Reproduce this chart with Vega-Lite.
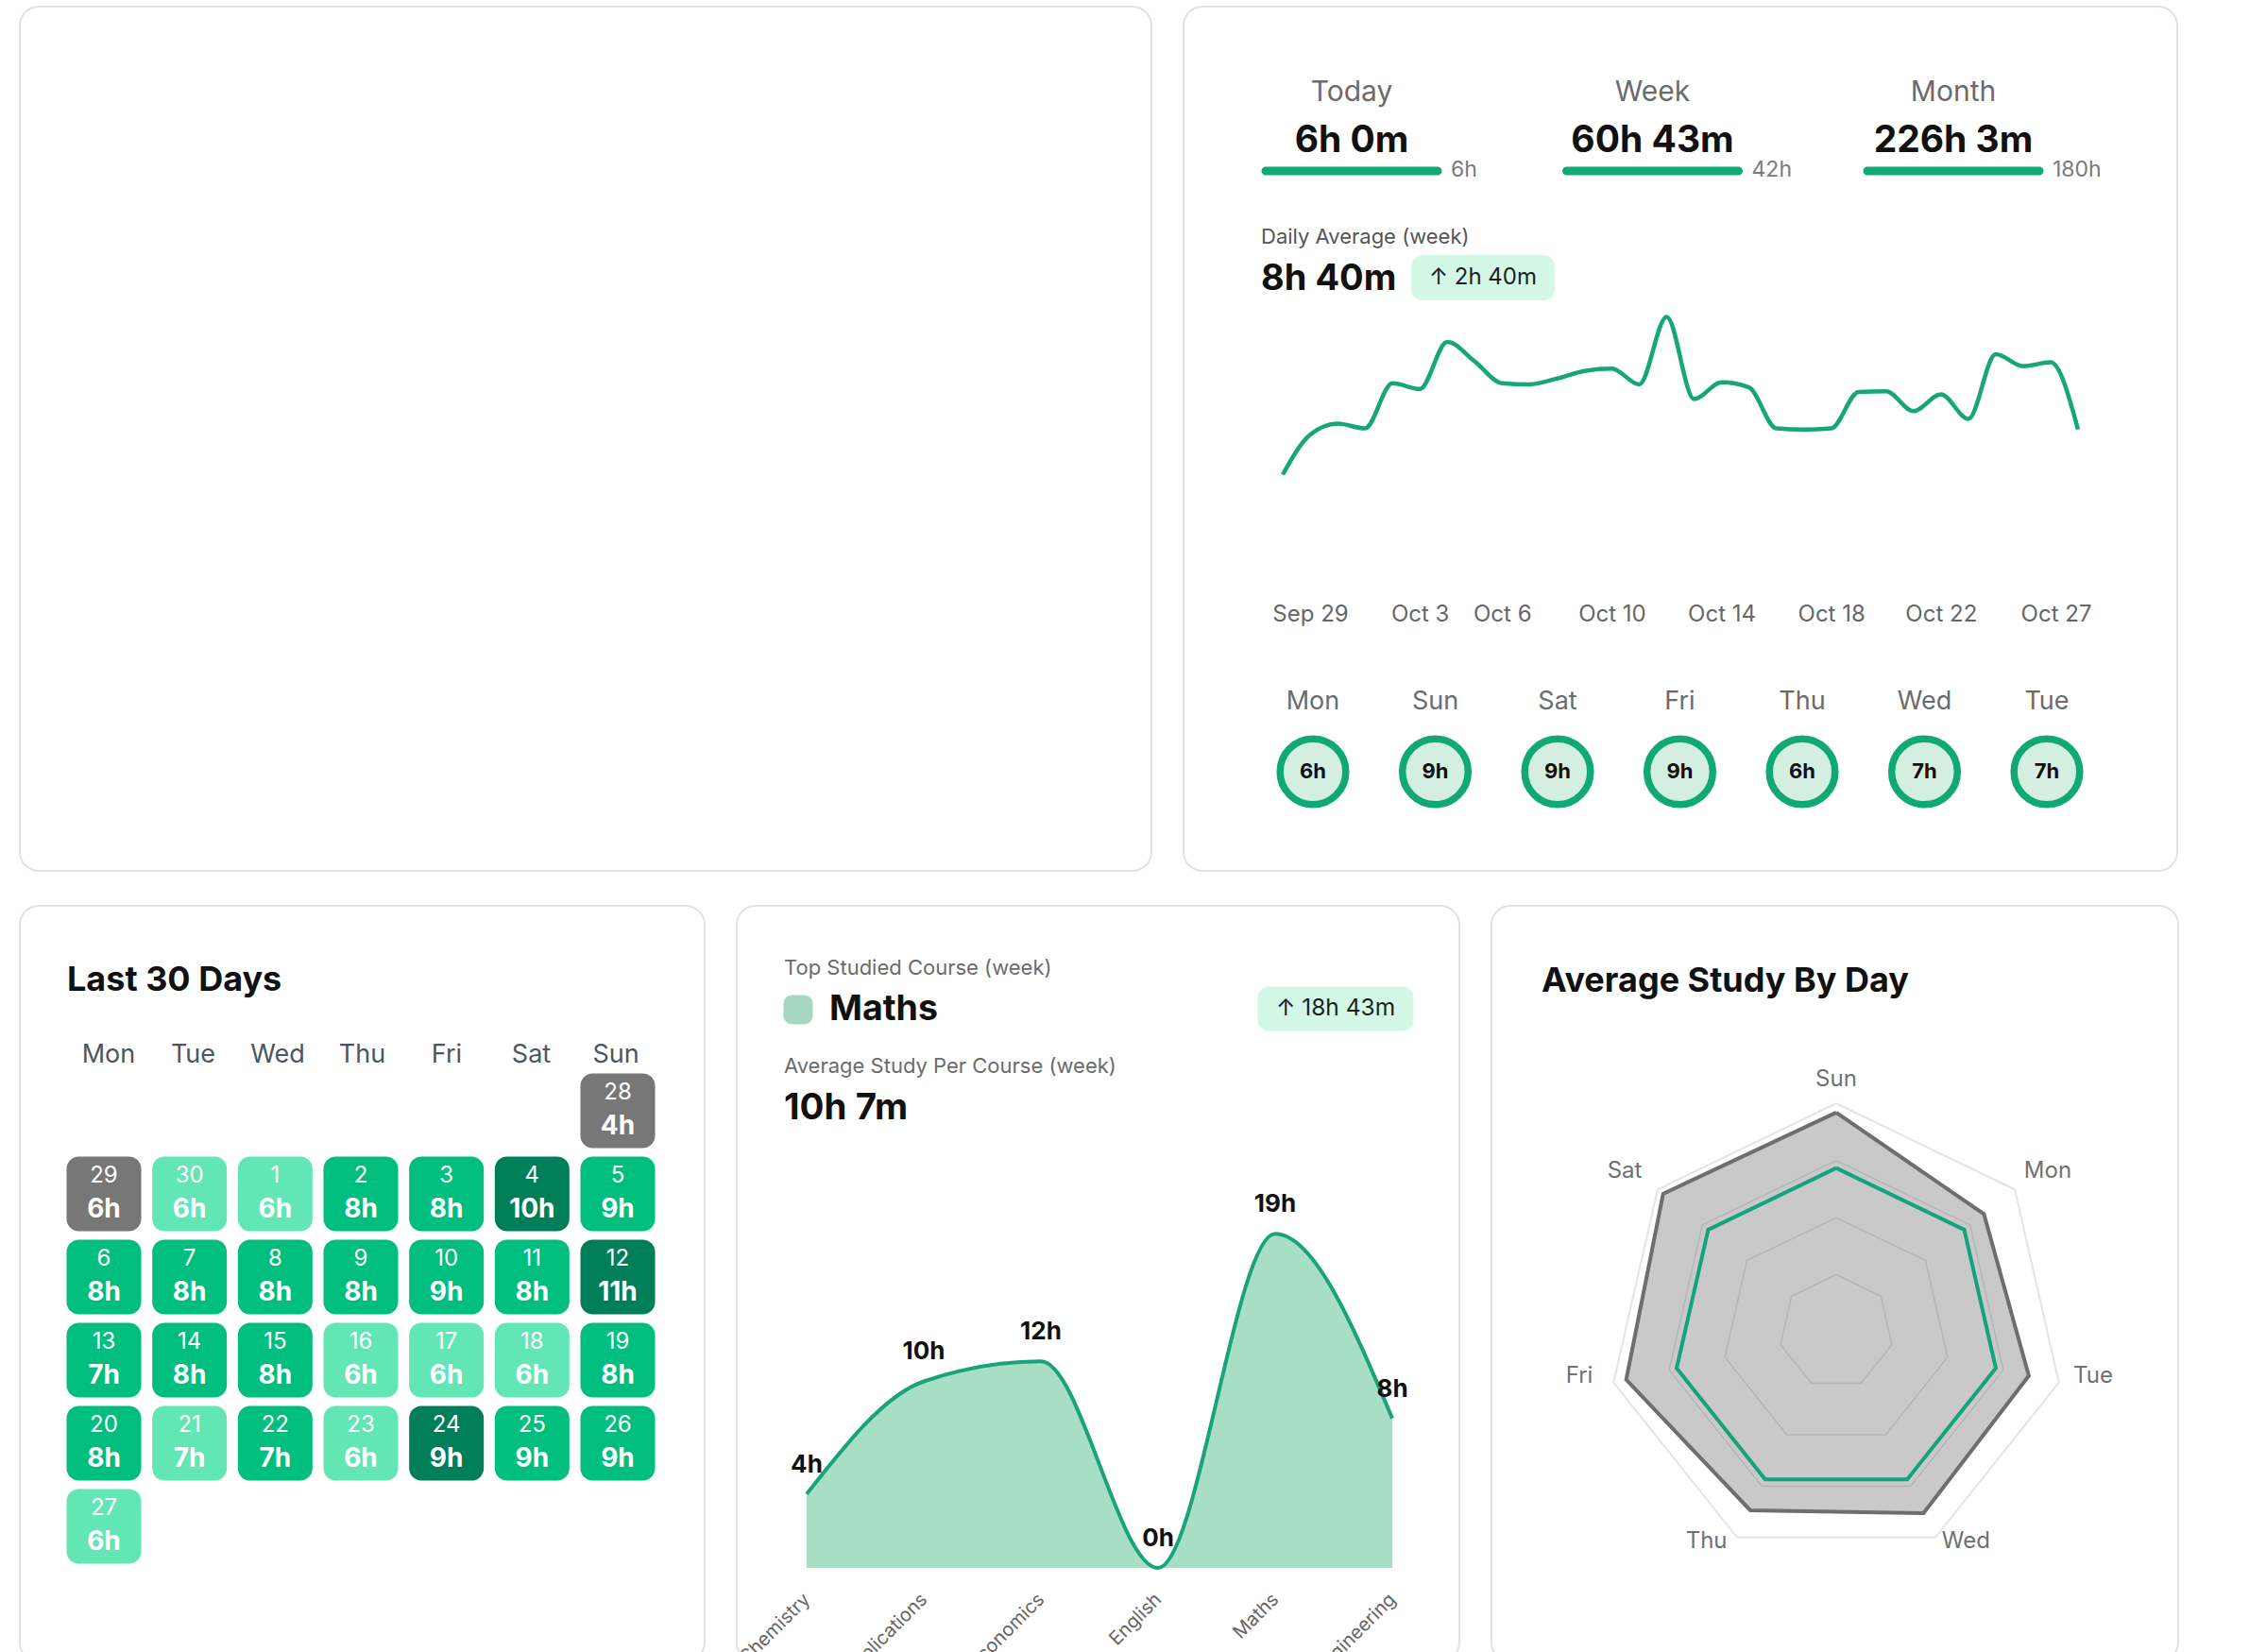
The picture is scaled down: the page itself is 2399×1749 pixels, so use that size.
{
  "$schema": "https://vega.github.io/schema/vega-lite/v6.json",
  "background": "#ffffff",
  "padding": {"left": 20, "top": 6, "right": 0, "bottom": 0},
  "config": {
    "font": "Inter",
    "view": {"stroke": "#e2e2e2", "strokeWidth": 2, "cornerRadius": 20, "fill": "#ffffff"},
    "text": {"font": "Inter"}
  },
  "spacing": 35,
  "vconcat": [
    {
      "spacing": 34,
      "bounds": "flush",
      "hconcat": [
        {
          "width": 1198,
          "height": 915,
          "data": {"values": [{"t": ""}]},
          "mark": {"type": "text", "opacity": 0},
          "encoding": {
            "text": {"field": "t"},
            "x": {"field": "t", "type": "nominal", "scale": {"type": "point", "range": [600, 600]}, "axis": null},
            "y": {"field": "t", "type": "nominal", "scale": {"type": "point", "range": [450, 450]}, "axis": null}
          }
        },
        {
          "width": 1052,
          "height": 915,
          "resolve": {"scale": {"x": "independent", "y": "independent"}},
          "layer": [
            {
              "data": {"values": [
                {"period": "Today", "total": "6h 0m", "goal": "6h"},
                {"period": "Week", "total": "60h 43m", "goal": "42h"},
                {"period": "Month", "total": "226h 3m", "goal": "180h"}
              ]},
              "encoding": {"x": {"field": "period", "type": "nominal", "scale": {"type": "point", "domain": ["Today", "Week", "Month"], "range": [178, 815], "padding": 0}, "axis": null}},
              "resolve": {"scale": {"y": "independent"}},
              "layer": [
                {"mark": {"type": "text", "fontSize": 30, "color": "#6b6b6b", "baseline": "middle"},
                 "encoding": {"text": {"field": "period"}, "y": {"field": "period", "type": "nominal", "scale": {"type": "point", "range": [91, 91]}, "axis": null}}},
                {"mark": {"type": "text", "fontSize": 39, "fontWeight": "bold", "color": "#111111", "baseline": "middle"},
                 "encoding": {"text": {"field": "total"}, "y": {"field": "period", "type": "nominal", "scale": {"type": "point", "range": [142, 142]}, "axis": null}}},
                {"mark": {"type": "rect", "width": 191, "height": 9, "cornerRadius": 4.5, "color": "#10a874"},
                 "encoding": {"y": {"field": "period", "type": "nominal", "scale": {"type": "point", "range": [174, 174]}, "axis": null}}},
                {"mark": {"type": "text", "fontSize": 23, "color": "#7a7a7a", "baseline": "middle", "align": "left", "dx": 105},
                 "encoding": {"text": {"field": "goal"}, "y": {"field": "period", "type": "nominal", "scale": {"type": "point", "range": [173, 173]}, "axis": null}}}
              ]
            },
            {
              "data": {"values": [{"t": "Daily Average (week)"}]},
              "mark": {"type": "text", "align": "left", "baseline": "middle", "fontSize": 22, "color": "#555555"},
              "encoding": {
                "text": {"field": "t"},
                "x": {"field": "t", "type": "nominal", "scale": {"type": "point", "range": [82, 82]}, "axis": null},
                "y": {"field": "t", "type": "nominal", "scale": {"type": "point", "range": [244, 244]}, "axis": null}
              }
            },
            {
              "data": {"values": [{"t": "8h 40m"}]},
              "mark": {"type": "text", "align": "left", "baseline": "middle", "fontSize": 38, "fontWeight": "bold", "color": "#111111"},
              "encoding": {
                "text": {"field": "t"},
                "x": {"field": "t", "type": "nominal", "scale": {"type": "point", "range": [82, 82]}, "axis": null},
                "y": {"field": "t", "type": "nominal", "scale": {"type": "point", "range": [289, 289]}, "axis": null}
              }
            },
            {
              "data": {"values": [{"t": "↑ 2h 40m"}]},
              "encoding": {
                "x": {"field": "t", "type": "nominal", "scale": {"type": "point", "range": [317, 317]}, "axis": null},
                "y": {"field": "t", "type": "nominal", "scale": {"type": "point", "range": [287, 287]}, "axis": null}
              },
              "layer": [
                {"mark": {"type": "rect", "width": 152, "height": 48, "cornerRadius": 12, "color": "#d3f8e8"}},
                {"mark": {"type": "text", "fontSize": 24, "color": "#1f1f1f", "baseline": "middle"}, "encoding": {"text": {"field": "t"}}}
              ]
            },
            {
              "data": {"values": [
                {"date": "2025-09-28T00:00", "hours": 4.0},
                {"date": "2025-09-29T00:00", "hours": 5.77},
                {"date": "2025-09-30T00:00", "hours": 6.26},
                {"date": "2025-10-01T00:00", "hours": 6.05},
                {"date": "2025-10-02T00:00", "hours": 8.05},
                {"date": "2025-10-03T00:00", "hours": 7.8},
                {"date": "2025-10-04T00:00", "hours": 9.89},
                {"date": "2025-10-05T00:00", "hours": 9.02},
                {"date": "2025-10-06T00:00", "hours": 8.05},
                {"date": "2025-10-07T00:00", "hours": 8.0},
                {"date": "2025-10-08T00:00", "hours": 8.26},
                {"date": "2025-10-09T00:00", "hours": 8.6},
                {"date": "2025-10-10T00:00", "hours": 8.7},
                {"date": "2025-10-11T00:00", "hours": 8.0},
                {"date": "2025-10-12T00:00", "hours": 11.0},
                {"date": "2025-10-13T00:00", "hours": 7.35},
                {"date": "2025-10-14T00:00", "hours": 8.09},
                {"date": "2025-10-15T00:00", "hours": 7.87},
                {"date": "2025-10-16T00:00", "hours": 6.05},
                {"date": "2025-10-17T00:00", "hours": 6.0},
                {"date": "2025-10-18T00:00", "hours": 6.05},
                {"date": "2025-10-19T00:00", "hours": 7.67},
                {"date": "2025-10-20T00:00", "hours": 7.7},
                {"date": "2025-10-21T00:00", "hours": 6.82},
                {"date": "2025-10-22T00:00", "hours": 7.56},
                {"date": "2025-10-23T00:00", "hours": 6.47},
                {"date": "2025-10-24T00:00", "hours": 9.34},
                {"date": "2025-10-25T00:00", "hours": 8.81},
                {"date": "2025-10-26T00:00", "hours": 8.98},
                {"date": "2025-10-27T00:00", "hours": 6.0}
              ]},
              "mark": {"type": "line", "interpolate": "monotone", "color": "#17a57a", "strokeWidth": 4.5},
              "encoding": {
                "x": {
                  "field": "date", "type": "temporal",
                  "scale": {"range": [105, 947], "nice": false},
                  "axis": {
                    "orient": "bottom", "offset": -272,
                    "values": [
                      {"year": 2025, "month": "sep", "date": 29},
                      {"year": 2025, "month": "oct", "date": 3},
                      {"year": 2025, "month": "oct", "date": 6},
                      {"year": 2025, "month": "oct", "date": 10},
                      {"year": 2025, "month": "oct", "date": 14},
                      {"year": 2025, "month": "oct", "date": 18},
                      {"year": 2025, "month": "oct", "date": 22},
                      {"year": 2025, "month": "oct", "date": 27}
                    ],
                    "format": "%b %-d", "domain": false, "ticks": false, "tickSize": 0, "grid": false,
                    "labelPadding": 0, "labelBaseline": "middle", "labelFontSize": 24, "labelColor": "#666666",
                    "labelFlush": true, "labelFlushOffset": 14, "labelOverlap": false, "title": null
                  }
                },
                "y": {"field": "hours", "type": "quantitative", "scale": {"domain": [0, 12], "range": [591, 304.5], "nice": false}, "axis": null}
              }
            },
            {
              "data": {"values": [
                {"day": "Mon", "h": "6h"},
                {"day": "Sun", "h": "9h"},
                {"day": "Sat", "h": "9h"},
                {"day": "Fri", "h": "9h"},
                {"day": "Thu", "h": "6h"},
                {"day": "Wed", "h": "7h"},
                {"day": "Tue", "h": "7h"}
              ]},
              "encoding": {"x": {"field": "day", "type": "nominal", "scale": {"type": "point", "domain": ["Mon", "Sun", "Sat", "Fri", "Thu", "Wed", "Tue"], "range": [137, 914], "padding": 0}, "axis": null}},
              "resolve": {"scale": {"y": "independent"}},
              "layer": [
                {"mark": {"type": "text", "fontSize": 27, "color": "#6b6b6b", "baseline": "middle"},
                 "encoding": {"text": {"field": "day"}, "y": {"field": "day", "type": "nominal", "scale": {"type": "point", "range": [736, 736]}, "axis": null}}},
                {"mark": {"type": "point", "shape": "circle", "size": 4850, "filled": false, "fill": "#d4efe2", "fillOpacity": 1, "stroke": "#10a874", "strokeWidth": 7.5, "opacity": 1},
                 "encoding": {"y": {"field": "day", "type": "nominal", "scale": {"type": "point", "range": [810, 810]}, "axis": null}}},
                {"mark": {"type": "text", "fontSize": 22, "fontWeight": "bold", "color": "#111111", "baseline": "middle"},
                 "encoding": {"text": {"field": "h"}, "y": {"field": "day", "type": "nominal", "scale": {"type": "point", "range": [810, 810]}, "axis": null}}}
              ]
            }
          ]
        }
      ]
    },
    {
      "spacing": 34,
      "bounds": "flush",
      "hconcat": [
        {
          "width": 725,
          "height": 800,
          "resolve": {"scale": {"x": "independent", "y": "independent", "color": "independent"}},
          "layer": [
            {
              "data": {"values": [{"t": "Last 30 Days"}]},
              "mark": {"type": "text", "align": "left", "baseline": "middle", "fontSize": 36, "fontWeight": "bold", "color": "#111111"},
              "encoding": {
                "text": {"field": "t"},
                "x": {"field": "t", "type": "nominal", "scale": {"type": "point", "range": [50, 50]}, "axis": null},
                "y": {"field": "t", "type": "nominal", "scale": {"type": "point", "range": [79, 79]}, "axis": null}
              }
            },
            {
              "data": {"values": [{"dow": "Mon"}, {"dow": "Tue"}, {"dow": "Wed"}, {"dow": "Thu"}, {"dow": "Fri"}, {"dow": "Sat"}, {"dow": "Sun"}]},
              "mark": {"type": "text", "baseline": "middle", "fontSize": 27, "color": "#4b5563"},
              "encoding": {
                "text": {"field": "dow"},
                "x": {"field": "dow", "type": "nominal", "scale": {"type": "point", "domain": ["Mon", "Tue", "Wed", "Thu", "Fri", "Sat", "Sun"], "range": [94, 631], "padding": 0}, "axis": null},
                "y": {"field": "dow", "type": "nominal", "scale": {"type": "point", "range": [158, 158]}, "axis": null}
              }
            },
            {
              "data": {"values": [
                {"d": "28", "h": "4h", "dow": "Sun", "wk": 0, "lvl": "gray"},
                {"d": "29", "h": "6h", "dow": "Mon", "wk": 1, "lvl": "gray"},
                {"d": "30", "h": "6h", "dow": "Tue", "wk": 1, "lvl": "light"},
                {"d": "1", "h": "6h", "dow": "Wed", "wk": 1, "lvl": "light"},
                {"d": "2", "h": "8h", "dow": "Thu", "wk": 1, "lvl": "mid"},
                {"d": "3", "h": "8h", "dow": "Fri", "wk": 1, "lvl": "mid"},
                {"d": "4", "h": "10h", "dow": "Sat", "wk": 1, "lvl": "dark"},
                {"d": "5", "h": "9h", "dow": "Sun", "wk": 1, "lvl": "mid"},
                {"d": "6", "h": "8h", "dow": "Mon", "wk": 2, "lvl": "mid"},
                {"d": "7", "h": "8h", "dow": "Tue", "wk": 2, "lvl": "mid"},
                {"d": "8", "h": "8h", "dow": "Wed", "wk": 2, "lvl": "mid"},
                {"d": "9", "h": "8h", "dow": "Thu", "wk": 2, "lvl": "mid"},
                {"d": "10", "h": "9h", "dow": "Fri", "wk": 2, "lvl": "mid"},
                {"d": "11", "h": "8h", "dow": "Sat", "wk": 2, "lvl": "mid"},
                {"d": "12", "h": "11h", "dow": "Sun", "wk": 2, "lvl": "dark"},
                {"d": "13", "h": "7h", "dow": "Mon", "wk": 3, "lvl": "mid"},
                {"d": "14", "h": "8h", "dow": "Tue", "wk": 3, "lvl": "mid"},
                {"d": "15", "h": "8h", "dow": "Wed", "wk": 3, "lvl": "mid"},
                {"d": "16", "h": "6h", "dow": "Thu", "wk": 3, "lvl": "light"},
                {"d": "17", "h": "6h", "dow": "Fri", "wk": 3, "lvl": "light"},
                {"d": "18", "h": "6h", "dow": "Sat", "wk": 3, "lvl": "light"},
                {"d": "19", "h": "8h", "dow": "Sun", "wk": 3, "lvl": "mid"},
                {"d": "20", "h": "8h", "dow": "Mon", "wk": 4, "lvl": "mid"},
                {"d": "21", "h": "7h", "dow": "Tue", "wk": 4, "lvl": "light"},
                {"d": "22", "h": "7h", "dow": "Wed", "wk": 4, "lvl": "mid"},
                {"d": "23", "h": "6h", "dow": "Thu", "wk": 4, "lvl": "light"},
                {"d": "24", "h": "9h", "dow": "Fri", "wk": 4, "lvl": "dark"},
                {"d": "25", "h": "9h", "dow": "Sat", "wk": 4, "lvl": "mid"},
                {"d": "26", "h": "9h", "dow": "Sun", "wk": 4, "lvl": "mid"},
                {"d": "27", "h": "6h", "dow": "Mon", "wk": 5, "lvl": "light"}
              ]},
              "encoding": {
                "x": {"field": "dow", "type": "nominal", "scale": {"type": "point", "domain": ["Mon", "Tue", "Wed", "Thu", "Fri", "Sat", "Sun"], "range": [89, 633], "padding": 0}, "axis": null},
                "y": {"field": "wk", "type": "ordinal", "scale": {"type": "point", "domain": [0, 1, 2, 3, 4, 5], "range": [217, 657], "padding": 0}, "axis": null}
              },
              "layer": [
                {"mark": {"type": "rect", "width": 79, "height": 79, "cornerRadius": 13},
                 "encoding": {"color": {"field": "lvl", "type": "nominal", "scale": {"domain": ["gray", "light", "mid", "dark"], "range": ["#777777", "#62e6b6", "#00be7d", "#007e57"]}, "legend": null}}},
                {"mark": {"type": "text", "dy": -19, "fontSize": 24, "color": "#ffffff", "baseline": "middle"},
                 "encoding": {"text": {"field": "d"}}},
                {"mark": {"type": "text", "dy": 17, "fontSize": 28, "fontWeight": "bold", "color": "#ffffff", "baseline": "middle"},
                 "encoding": {"text": {"field": "h"}}}
              ]
            }
          ]
        },
        {
          "width": 765,
          "height": 800,
          "resolve": {"scale": {"x": "independent", "y": "independent"}},
          "layer": [
            {
              "data": {"values": [{"t": "Top Studied Course (week)"}]},
              "mark": {"type": "text", "align": "left", "baseline": "middle", "fontSize": 22, "color": "#6b6b6b"},
              "encoding": {
                "text": {"field": "t"},
                "x": {"field": "t", "type": "nominal", "scale": {"type": "point", "range": [50, 50]}, "axis": null},
                "y": {"field": "t", "type": "nominal", "scale": {"type": "point", "range": [66, 66]}, "axis": null}
              }
            },
            {
              "data": {"values": [{"t": "Maths"}]},
              "encoding": {
                "y": {"field": "t", "type": "nominal", "scale": {"type": "point", "range": [110, 110]}, "axis": null}
              },
              "resolve": {"scale": {"x": "independent"}},
              "layer": [
                {"mark": {"type": "rect", "width": 31, "height": 31, "cornerRadius": 9, "color": "#a7d6c2"},
                 "encoding": {"x": {"field": "t", "type": "nominal", "scale": {"type": "point", "range": [65, 65]}, "axis": null}}},
                {"mark": {"type": "text", "align": "left", "baseline": "middle", "fontSize": 37.5, "fontWeight": "bold", "color": "#111111"},
                 "encoding": {"text": {"field": "t"}, "x": {"field": "t", "type": "nominal", "scale": {"type": "point", "range": [98, 98]}, "axis": null}}}
              ]
            },
            {
              "data": {"values": [{"t": "↑ 18h 43m"}]},
              "encoding": {
                "x": {"field": "t", "type": "nominal", "scale": {"type": "point", "range": [634, 634]}, "axis": null},
                "y": {"field": "t", "type": "nominal", "scale": {"type": "point", "range": [109, 109]}, "axis": null}
              },
              "layer": [
                {"mark": {"type": "rect", "width": 165, "height": 47, "cornerRadius": 12, "color": "#d3f8e8"}},
                {"mark": {"type": "text", "fontSize": 24.5, "color": "#1f1f1f", "baseline": "middle"}, "encoding": {"text": {"field": "t"}}}
              ]
            },
            {
              "data": {"values": [{"t": "Average Study Per Course (week)"}]},
              "mark": {"type": "text", "align": "left", "baseline": "middle", "fontSize": 22, "color": "#6b6b6b"},
              "encoding": {
                "text": {"field": "t"},
                "x": {"field": "t", "type": "nominal", "scale": {"type": "point", "range": [50, 50]}, "axis": null},
                "y": {"field": "t", "type": "nominal", "scale": {"type": "point", "range": [170, 170]}, "axis": null}
              }
            },
            {
              "data": {"values": [{"t": "10h 7m"}]},
              "mark": {"type": "text", "align": "left", "baseline": "middle", "fontSize": 38.5, "fontWeight": "bold", "color": "#111111"},
              "encoding": {
                "text": {"field": "t"},
                "x": {"field": "t", "type": "nominal", "scale": {"type": "point", "range": [50, 50]}, "axis": null},
                "y": {"field": "t", "type": "nominal", "scale": {"type": "point", "range": [214, 214]}, "axis": null}
              }
            },
            {
              "data": {"values": [
                {"course": "Chemistry", "hours": 4.14, "label": "4h"},
                {"course": "Applications", "hours": 10.45, "label": "10h"},
                {"course": "Economics", "hours": 11.57, "label": "12h"},
                {"course": "English", "hours": 0, "label": "0h"},
                {"course": "Maths", "hours": 18.72, "label": "19h"},
                {"course": "Engineering", "hours": 8.38, "label": "8h"}
              ]},
              "encoding": {
                "x": {
                  "field": "course", "type": "nominal",
                  "scale": {"type": "point", "domain": ["Chemistry", "Applications", "Economics", "English", "Maths", "Engineering"], "range": [74, 694], "padding": 0},
                  "axis": {
                    "orient": "bottom", "offset": -99, "domain": false, "ticks": false, "tickSize": 0, "grid": false,
                    "labelAngle": -45, "labelAlign": "right", "labelBaseline": "middle", "labelPadding": 30,
                    "labelFontSize": 20, "labelColor": "#666666", "labelOverlap": false, "title": null
                  }
                },
                "y": {"field": "hours", "type": "quantitative", "scale": {"domain": [0, 20], "range": [701, 323], "nice": false}, "axis": null}
              },
              "layer": [
                {"mark": {"type": "area", "interpolate": "monotone", "color": "#a9dec6", "opacity": 1, "line": {"color": "#1aa37a", "strokeWidth": 4}}},
                {"mark": {"type": "text", "dy": -31, "fontSize": 26, "fontWeight": "bold", "color": "#111111", "baseline": "middle"},
                 "encoding": {"text": {"field": "label"}}}
              ]
            }
          ]
        },
        {
          "width": 727,
          "height": 800,
          "resolve": {"scale": {"x": "independent", "y": "independent"}},
          "layer": [
            {
              "data": {"values": [{"t": "Average Study By Day"}]},
              "mark": {"type": "text", "align": "left", "baseline": "middle", "fontSize": 36, "fontWeight": "bold", "color": "#111111"},
              "encoding": {
                "text": {"field": "t"},
                "x": {"field": "t", "type": "nominal", "scale": {"type": "point", "range": [53, 53]}, "axis": null},
                "y": {"field": "t", "type": "nominal", "scale": {"type": "point", "range": [80, 80]}, "axis": null}
              }
            },
            {
              "encoding": {
                "x": {"field": "px", "type": "quantitative", "scale": {"domain": [-10, 10], "range": [78.5, 651.5], "nice": false, "zero": false}, "axis": null},
                "y": {"field": "py", "type": "quantitative", "scale": {"domain": [-10, 10], "range": [737.5, 164.5], "nice": false, "zero": false}, "axis": null}
              },
              "layer": [
                {
                  "data": {"values": [{"r": 8.44, "i": [0, 1, 2, 3, 4, 5, 6, 7]}]},
                  "transform": [
                    {"flatten": ["i"]},
                    {"calculate": "2*PI*datum.i/7", "as": "a"},
                    {"calculate": "datum.r*sin(datum.a)", "as": "px"},
                    {"calculate": "datum.r*cos(datum.a)", "as": "py"}
                  ],
                  "mark": {"type": "line", "color": "#e4e4e4", "strokeWidth": 2},
                  "encoding": {"detail": {"field": "r"}, "order": {"field": "i", "type": "quantitative"}}
                },
                {
                  "data": {"values": [
                    {"day": "Sun", "i": 0, "r": 8.1},
                    {"day": "Mon", "i": 1, "r": 6.98},
                    {"day": "Tue", "i": 2, "r": 7.3},
                    {"day": "Wed", "i": 3, "r": 7.44},
                    {"day": "Thu", "i": 4, "r": 7.32},
                    {"day": "Fri", "i": 5, "r": 7.96},
                    {"day": "Sat", "i": 6, "r": 8.18},
                    {"day": "Sun", "i": 7, "r": 8.1}
                  ]},
                  "transform": [
                    {"calculate": "2*PI*datum.i/7", "as": "a"},
                    {"calculate": "datum.r*sin(datum.a)", "as": "px"},
                    {"calculate": "datum.r*cos(datum.a)", "as": "py"}
                  ],
                  "mark": {"type": "line", "fill": "#c9c9c9", "stroke": "#c9c9c9", "strokeWidth": 1},
                  "encoding": {"order": {"field": "i", "type": "quantitative"}}
                },
                {
                  "data": {"values": [
                    {"r": 2.11, "i": [0, 1, 2, 3, 4, 5, 6, 7]},
                    {"r": 4.22, "i": [0, 1, 2, 3, 4, 5, 6, 7]},
                    {"r": 6.33, "i": [0, 1, 2, 3, 4, 5, 6, 7]}
                  ]},
                  "transform": [
                    {"flatten": ["i"]},
                    {"calculate": "2*PI*datum.i/7", "as": "a"},
                    {"calculate": "datum.r*sin(datum.a)", "as": "px"},
                    {"calculate": "datum.r*cos(datum.a)", "as": "py"}
                  ],
                  "mark": {"type": "line", "color": "#b5b5b5", "strokeWidth": 1.5},
                  "encoding": {"detail": {"field": "r"}, "order": {"field": "i", "type": "quantitative"}}
                },
                {
                  "data": {"values": [
                    {"day": "Sun", "i": 0, "r": 8.1},
                    {"day": "Mon", "i": 1, "r": 6.98},
                    {"day": "Tue", "i": 2, "r": 7.3},
                    {"day": "Wed", "i": 3, "r": 7.44},
                    {"day": "Thu", "i": 4, "r": 7.32},
                    {"day": "Fri", "i": 5, "r": 7.96},
                    {"day": "Sat", "i": 6, "r": 8.18},
                    {"day": "Sun", "i": 7, "r": 8.1}
                  ]},
                  "transform": [
                    {"calculate": "2*PI*datum.i/7", "as": "a"},
                    {"calculate": "datum.r*sin(datum.a)", "as": "px"},
                    {"calculate": "datum.r*cos(datum.a)", "as": "py"}
                  ],
                  "mark": {"type": "line", "color": "#6e6e6e", "strokeWidth": 4, "strokeJoin": "miter"},
                  "encoding": {"order": {"field": "i", "type": "quantitative"}}
                },
                {
                  "data": {"values": [{"r": 6.05, "i": [0, 1, 2, 3, 4, 5, 6, 7]}]},
                  "transform": [
                    {"flatten": ["i"]},
                    {"calculate": "2*PI*datum.i/7", "as": "a"},
                    {"calculate": "datum.r*sin(datum.a)", "as": "px"},
                    {"calculate": "datum.r*cos(datum.a)", "as": "py"}
                  ],
                  "mark": {"type": "line", "color": "#14a37a", "strokeWidth": 4},
                  "encoding": {"order": {"field": "i", "type": "quantitative"}}
                },
                {
                  "data": {"values": [
                    {"day": "Sun", "i": 0}, {"day": "Mon", "i": 1}, {"day": "Tue", "i": 2}, {"day": "Wed", "i": 3},
                    {"day": "Thu", "i": 4}, {"day": "Fri", "i": 5}, {"day": "Sat", "i": 6}
                  ]},
                  "transform": [
                    {"calculate": "2*PI*datum.i/7", "as": "a"},
                    {"calculate": "8.68*sin(datum.a) + (sin(datum.a) > 0.01 ? 1.03 : (sin(datum.a) < -0.01 ? -1.03 : 0))", "as": "px"},
                    {"calculate": "8.97*cos(datum.a) + 0.35", "as": "py"}
                  ],
                  "mark": {"type": "text", "fontSize": 24, "color": "#707070", "baseline": "middle"},
                  "encoding": {"text": {"field": "day"}}
                }
              ]
            }
          ]
        }
      ]
    }
  ]
}
